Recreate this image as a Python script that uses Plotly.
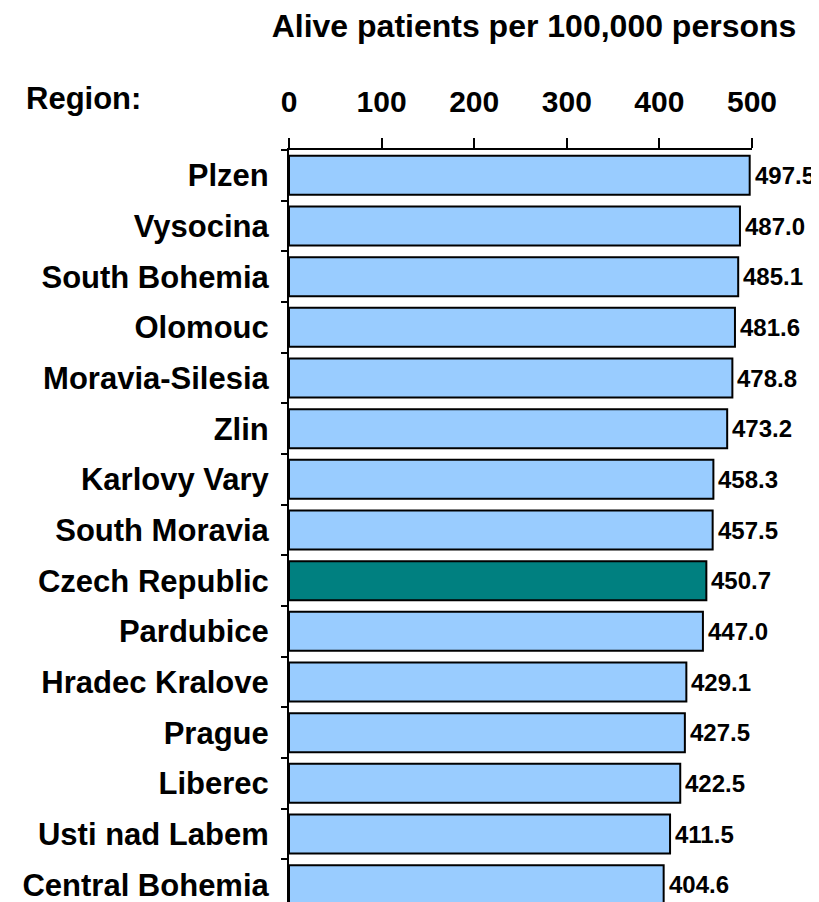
import plotly.graph_objects as go

regions = ["Plzen", "Vysocina", "South Bohemia", "Olomouc", "Moravia-Silesia", "Zlin",
           "Karlovy Vary", "South Moravia", "Czech Republic", "Pardubice", "Hradec Kralove",
           "Prague", "Liberec", "Usti nad Labem", "Central Bohemia"]
values = [497.5, 487.0, 485.1, 481.6, 478.8, 473.2, 458.3, 457.5, 450.7, 447.0,
          429.1, 427.5, 422.5, 411.5, 404.6]
x_ticks = [0, 100, 200, 300, 400, 500]
highlight = "Czech Republic"

W, H = 819, 902
ML, MR, MT, MB = 281, 75, 142, 0
FONT = "Liberation Sans, Arial, sans-serif"

colors = ["#008080" if r == highlight else "#99CCFF" for r in regions]

fig = go.Figure(go.Bar(
    x=values, y=regions, orientation="h",
    marker=dict(color=colors, line=dict(color="black", width=2)),
    hoverinfo="skip",
))

for r, v in zip(regions, values):
    fig.add_annotation(x=v, y=r, xref="x", yref="y", text=f"{v:.1f}",
                       showarrow=False, xanchor="left", yanchor="middle", xshift=4,
                       borderpad=0,
                       font=dict(family=FONT, size=24, color="black", weight="bold"))

pw = W - ML - MR
ph = H - MT - MB
fig.add_annotation(x=(75 - ML) / pw, y=1 + (MT - 90) / ph, xref="paper", yref="paper",
                   yanchor="middle", xanchor="center",
                   text="Region:", showarrow=False,
                   font=dict(family=FONT, size=31, color="black", weight="bold"))

fig.update_layout(
    template="none",
    width=W, height=H,
    margin=dict(l=ML, r=MR, t=MT, b=MB, pad=0),
    paper_bgcolor="white", plot_bgcolor="white",
    bargap=0.23,
    showlegend=False,
    title=dict(text="Alive patients per 100,000 persons", x=526 / W, xanchor="center",
               y=1 - 18 / H, yanchor="middle", xref="container", yref="container",
               font=dict(family=FONT, size=32, color="black", weight="bold")),
    xaxis=dict(side="top", range=[0, 500], tickvals=x_ticks, ticktext=[str(t) for t in x_ticks],
               ticks="outside", ticklen=10, tickwidth=2, tickcolor="black", automargin=False,
               showline=True, linewidth=2, linecolor="black", showgrid=False, zeroline=False,
               ticklabelstandoff=14,
               tickfont=dict(family=FONT, size=30, color="black", weight="bold")),
    yaxis=dict(autorange="reversed", type="category", tickson="boundaries", automargin=False,
               ticks="outside", ticklen=6, tickwidth=2, tickcolor="black",
               showline=True, linewidth=2, linecolor="black", showgrid=False, zeroline=False,
               ticklabelstandoff=12,
               tickfont=dict(family=FONT, size=31, color="black", weight="bold")),
)

fig.write_html("out.html")
